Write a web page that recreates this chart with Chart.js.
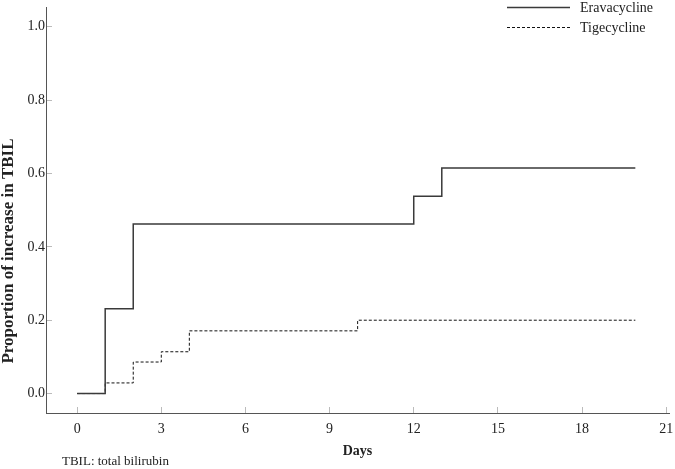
<!DOCTYPE html>
<html>
<head>
<meta charset="utf-8">
<script src="https://cdn.jsdelivr.net/npm/chart.js@4"></script>
<style>
  html, body { margin: 0; padding: 0; background: #fff; }
  #wrap { width: 675px; height: 469px; }
</style>
</head>
<body>
<div id="wrap"><canvas id="km" width="675" height="469"></canvas></div>
<script>
const seriesNames = ["Eravacycline", "Tigecycline"];
const eravaDays = [0, 1, 2, 12, 13, 19.9];
const eravaValues = [0, 0.231, 0.462, 0.538, 0.615, 0.615];
const tigeDays = [0, 1, 2, 3, 4, 10, 19.9];
const tigeValues = [0, 0.029, 0.086, 0.114, 0.171, 0.2, 0.2];
const xTicks = [0, 3, 6, 9, 12, 15, 18, 21];
const yTicks = [0, 0.2, 0.4, 0.6, 0.8, 1.0];
const yTitle = "Proportion of increase in TBIL";
const footnote = "TBIL: total bilirubin";

const serif = "'Liberation Serif', 'Times New Roman', serif";

function toPoints(xs, ys) {
    return xs.map((x, i) => ({x: x, y: ys[i]}));
}

// legend in the top right corner, the y title and the footnote
const extrasPlugin = {
    id: 'extras',
    afterDraw(chart) {
        const ctx = chart.ctx;
        const rows = [7, 27];
        ctx.save();
        chart.data.datasets.forEach((ds, i) => {
            const y = rows[i] + 0.5;
            ctx.beginPath();
            ctx.strokeStyle = ds.borderColor;
            ctx.lineWidth = ds.borderWidth;
            ctx.setLineDash(ds.borderDash || []);
            ctx.moveTo(507, y);
            ctx.lineTo(570, y);
            ctx.stroke();
            ctx.setLineDash([]);
            ctx.fillStyle = '#222';
            ctx.font = '14px ' + serif;
            ctx.textBaseline = 'middle';
            ctx.textAlign = 'left';
            ctx.fillText(ds.label, 580, y + 1);
        });

        ctx.font = '13px ' + serif;
        ctx.fillStyle = '#222';
        ctx.textBaseline = 'middle';
        ctx.textAlign = 'left';
        ctx.fillText(footnote, 62, 462);

        ctx.translate(9, 251);
        ctx.rotate(-Math.PI / 2);
        ctx.font = 'bold 17px ' + serif;
        ctx.textAlign = 'center';
        ctx.fillText(yTitle, 0, 0);
        ctx.restore();
    }
};

const ctx = document.getElementById('km').getContext('2d');
new Chart(ctx, {
    type: 'line',
    data: {
        datasets: [{
            label: seriesNames[0],
            data: toPoints(eravaDays, eravaValues),
            borderColor: '#3a3a3a',
            borderWidth: 1.5,
            stepped: true,
            pointRadius: 0,
            fill: false
        }, {
            label: seriesNames[1],
            data: toPoints(tigeDays, tigeValues),
            borderColor: '#111',
            borderWidth: 1,
            borderDash: [3, 2],
            stepped: true,
            pointRadius: 0,
            fill: false
        }]
    },
    options: {
        responsive: false,
        animation: false,
        layout: {padding: {top: 7, right: 6, left: 0, bottom: 0}},
        plugins: {
            legend: {display: false},
            tooltip: {enabled: false}
        },
        scales: {
            x: {
                type: 'linear',
                min: -1.11,
                max: 21.1,
                afterBuildTicks: axis => { axis.ticks = xTicks.map(v => ({value: v})); },
                afterFit: axis => {
                    axis.height = 56;
                    axis.paddingLeft = 0;
                    axis.paddingRight = 0;
                },
                border: {color: '#555', width: 1},
                grid: {drawOnChartArea: false, drawTicks: true, tickLength: -6, color: '#bbb'},
                ticks: {
                    padding: 14,
                    color: '#222',
                    font: {family: serif, size: 14}
                },
                title: {
                    display: true,
                    text: 'Days',
                    color: '#222',
                    font: {family: serif, size: 14, weight: 'bold'},
                    padding: {top: 0, bottom: 9}
                }
            },
            y: {
                type: 'linear',
                min: -0.053,
                max: 1.054,
                afterBuildTicks: axis => { axis.ticks = yTicks.map(v => ({value: v})); },
                afterFit: axis => {
                    axis.width = 46;
                    axis.paddingTop = 0;
                    axis.paddingBottom = 0;
                },
                border: {color: '#555', width: 1},
                grid: {drawOnChartArea: false, drawTicks: true, tickLength: -6, color: '#bbb'},
                ticks: {
                    padding: 7,
                    color: '#222',
                    font: {family: serif, size: 14},
                    callback: v => v.toFixed(1)
                }
            }
        }
    },
    plugins: [extrasPlugin]
});
</script>
</body>
</html>
